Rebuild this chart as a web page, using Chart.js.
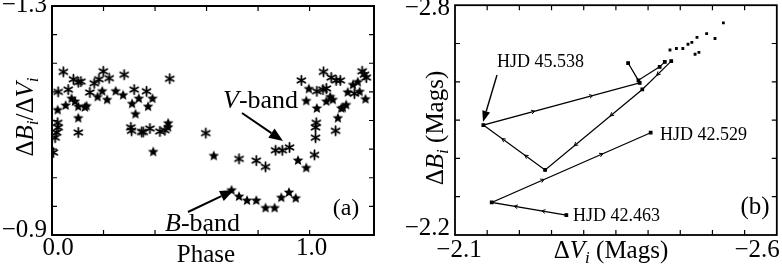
<!DOCTYPE html>
<html>
<head>
<meta charset="utf-8">
<script src="https://cdn.jsdelivr.net/npm/chart.js@4/dist/chart.umd.min.js"></script>
<style>
  body { margin: 0; background: #fff; overflow: hidden; }
  #wrap { position: relative; width: 782px; height: 264px; }
  canvas { position: absolute; top: 0; }
</style>
</head>
<body>
<div id="wrap">
  <canvas id="left" width="380" height="264" style="left:0"></canvas>
  <canvas id="right" width="402" height="264" style="left:380px"></canvas>
</div>
<script>
// --- DATA ---
// panel (a): phase folded colour ratio, V-band (asterisks) and B-band (stars)
const vPhase = [0.044,0.083,0.102,0.112,0.024,0.063,0.022,0.024,0.018,0.012,0.102,0.005,0.147,0.164,0.182,0.199,0.222,0.280,0.319,0.306,0.309,0.348,0.457,0.367,0.354,0.380,0.419,0.438,0.597,0.726,0.793,0.829,0.868,0.894,0.922,1.019,1.023,1.023,1.026,1.101,0.968,1.028,1.052,1.054,1.084,1.103,1.119,1.204,1.220,1.213,1.174,1.065];
const vRatio = [-1.185,-1.172,-1.167,-1.168,-1.150,-1.154,-1.096,-1.088,-1.079,-1.070,-1.079,-1.044,-1.149,-1.165,-1.172,-1.186,-1.174,-1.180,-1.154,-1.088,-1.082,-1.080,-1.173,-1.151,-1.080,-1.086,-1.081,-1.083,-1.078,-1.033,-1.030,-1.019,-1.048,-1.048,-1.053,-1.040,-1.070,-1.088,-1.096,-1.082,-1.170,-1.151,-1.154,-1.185,-1.175,-1.170,-1.170,-1.186,-1.175,-1.180,-1.147,-1.156];
const bPhase = [0.022,0.053,0.076,0.089,0.102,0.128,0.134,0.102,0.177,0.195,0.214,0.247,0.276,0.337,0.311,0.324,0.390,0.373,0.451,0.451,0.393,0.628,0.955,0.987,0.697,0.726,0.757,0.793,0.829,0.864,0.890,0.920,0.946,1.028,1.110,1.129,1.142,0.997,0.987,1.080,1.090,1.148,1.168,1.187,1.194,1.217,1.065,1.123];
const bRatio = [-1.119,-1.127,-1.139,-1.134,-1.125,-1.124,-1.126,-1.105,-1.142,-1.152,-1.137,-1.152,-1.145,-1.139,-1.130,-1.112,-1.139,-1.125,-1.096,-1.089,-1.046,-1.039,-1.031,-1.018,-0.979,-0.968,-0.961,-0.961,-0.948,-0.948,-0.966,-0.975,-0.965,-1.122,-1.105,-1.123,-1.128,-1.156,-1.135,-1.142,-1.137,-1.150,-1.163,-1.168,-1.151,-1.138,-1.134,-1.122];

// panel (b): colour-magnitude track, delta V vs delta B (mags)
const night42DV = [-2.273,-2.157,-2.404];
const night42DB = [-2.252,-2.285,-2.467];
const night45DV = [-2.436,-2.391,-2.240,-2.144,-2.387,-2.369,-2.385,-2.418,-2.426];
const night45DB = [-2.654,-2.580,-2.370,-2.487,-2.597,-2.649,-2.604,-2.639,-2.652];
const otherDV = [-2.434,-2.444,-2.454,-2.462,-2.468,-2.473,-2.479,-2.476,-2.491,-2.504,-2.517];
const otherDB = [-2.683,-2.687,-2.687,-2.698,-2.703,-2.672,-2.677,-2.716,-2.726,-2.713,-2.754];

// tick labels
const phaseTicks = [0.0, 1.0];
const ratioTicks = [-1.3, -0.9];
const dvTicks = [-2.1, -2.6];
const dbTicks = [-2.8, -2.2];

const FONT = '"Liberation Serif", "DejaVu Serif", serif';
const pts = (xs, ys) => xs.map((x, i) => ({ x, y: ys[i] }));
const fmt = v => (v < 0 ? '\u2212' : '') + Math.abs(v).toFixed(1);

// --- MARKERS ---
function makeAsterisk(r, lw) {
    const s = Math.ceil(2 * r + 2 * lw), c = document.createElement('canvas');
    c.width = c.height = s;
    const g = c.getContext('2d');
    g.translate(s / 2, s / 2);
    g.strokeStyle = '#000'; g.lineWidth = lw; g.lineCap = 'round';
    g.beginPath();
    for (let k = 0; k < 3; k++) {
        const a = Math.PI / 2 + k * Math.PI / 3;
        g.moveTo(Math.cos(a) * r, Math.sin(a) * r);
        g.lineTo(-Math.cos(a) * r, -Math.sin(a) * r);
    }
    g.stroke();
    g.beginPath(); g.arc(0, 0, lw * 0.9, 0, Math.PI * 2); g.fillStyle = '#000'; g.fill();
    return c;
}

function makeStar(r) {
    const s = Math.ceil(2 * r + 2), c = document.createElement('canvas');
    c.width = c.height = s;
    const g = c.getContext('2d');
    g.translate(s / 2, s / 2 + 0.5);
    g.fillStyle = '#000';
    g.beginPath();
    for (let k = 0; k < 10; k++) {
        const a = -Math.PI / 2 + k * Math.PI / 5, rr = k % 2 ? r * 0.45 : r;
        g.lineTo(Math.cos(a) * rr, Math.sin(a) * rr);
    }
    g.closePath(); g.fill();
    return c;
}

// --- TEXT HELPERS ---
function drawRich(ctx, parts, x, y, size, align) {
    const fonts = {
        r: `${size}px ${FONT}`,
        i: `italic ${size}px ${FONT}`,
        s: `italic ${Math.round(size * 0.68)}px ${FONT}`
    };
    let w = 0;
    parts.forEach(([t, s]) => { ctx.font = fonts[s]; w += ctx.measureText(t).width; });
    let cx = align === 'center' ? x - w / 2 : align === 'right' ? x - w : x;
    ctx.textAlign = 'left';
    ctx.textBaseline = 'alphabetic';
    parts.forEach(([t, s]) => {
        ctx.font = fonts[s];
        ctx.fillText(t, cx, s === 's' ? y + size * 0.2 : y);
        cx += ctx.measureText(t).width;
    });
}

function arrow(ctx, x1, y1, x2, y2, len, half, lw) {
    const a = Math.atan2(y2 - y1, x2 - x1);
    const bx = x2 - Math.cos(a) * len, by = y2 - Math.sin(a) * len;
    ctx.lineWidth = lw;
    ctx.beginPath(); ctx.moveTo(x1, y1); ctx.lineTo(bx, by); ctx.stroke();
    ctx.beginPath();
    ctx.moveTo(x2, y2);
    ctx.lineTo(bx + Math.sin(a) * half, by - Math.cos(a) * half);
    ctx.lineTo(bx - Math.sin(a) * half, by + Math.cos(a) * half);
    ctx.closePath(); ctx.fill();
}

// frame, inward ticks, tick labels, titles and notes
const decor = {
    id: 'decor',
    afterDraw(chart, args, o) {
        const { ctx, chartArea: a, scales: { x, y } } = chart;
        ctx.save();
        ctx.strokeStyle = '#000'; ctx.fillStyle = '#000';

        ctx.lineWidth = o.frameWidth;
        ctx.strokeRect(a.left, a.top, a.right - a.left, a.bottom - a.top);

        ctx.lineWidth = 1.2;
        ctx.beginPath();
        x.ticks.forEach(t => {
            const px = x.getPixelForValue(t.value);
            if (px < a.left + 3 || px > a.right - 3) return;
            ctx.moveTo(px, a.bottom); ctx.lineTo(px, a.bottom - o.tick);
            ctx.moveTo(px, a.top); ctx.lineTo(px, a.top + o.tick);
        });
        y.ticks.forEach(t => {
            const py = y.getPixelForValue(t.value);
            if (py < a.top + 3 || py > a.bottom - 3) return;
            ctx.moveTo(a.left, py); ctx.lineTo(a.left + o.tick, py);
            ctx.moveTo(a.right, py); ctx.lineTo(a.right - o.tick, py);
        });
        ctx.stroke();

        // tick labels: value sits on the scale, small nudges keep them inside the picture
        o.xLabels.forEach(([v, dx, align]) => {
            drawRich(ctx, [[fmt(v), 'r']], x.getPixelForValue(v) + dx, a.bottom + o.xLabelDrop, o.size, align);
        });
        o.yLabels.forEach(([v, dy]) => {
            drawRich(ctx, [[fmt(v), 'r']], a.left - 5, y.getPixelForValue(v) + dy, o.size, 'right');
        });

        // axis titles
        drawRich(ctx, o.xTitle, o.xTitlePos[0], o.xTitlePos[1], o.size, 'center');
        ctx.save();
        ctx.translate(o.yTitlePos[0], o.yTitlePos[1]);
        ctx.rotate(-Math.PI / 2);
        drawRich(ctx, o.yTitle, 0, 0, o.size, 'center');
        ctx.restore();

        // notes and arrows
        o.notes.forEach(n => drawRich(ctx, n.parts, n.x, n.y, n.size, n.align));
        o.arrows.forEach(r => arrow(ctx, ...r));

        // direction marks along the track
        if (o.trackMarks) {
            ctx.lineWidth = 1;
            chart.data.datasets.forEach((ds, di) => {
                if (!ds.showLine) return;
                const el = chart.getDatasetMeta(di).data;
                for (let i = 1; i < el.length; i++) {
                    const p0 = el[i - 1], p1 = el[i];
                    const L = Math.hypot(p1.x - p0.x, p1.y - p0.y);
                    const fr = L > 70 ? [0.33, 0.7] : L > 30 ? [0.5] : [];
                    const ang = Math.atan2(p1.y - p0.y, p1.x - p0.x);
                    fr.forEach(f => {
                        const cx = p0.x + (p1.x - p0.x) * f, cy = p0.y + (p1.y - p0.y) * f;
                        ctx.beginPath();
                        ctx.moveTo(cx - Math.cos(ang - 0.5) * 4, cy - Math.sin(ang - 0.5) * 4);
                        ctx.lineTo(cx, cy);
                        ctx.lineTo(cx - Math.cos(ang + 0.5) * 4, cy - Math.sin(ang + 0.5) * 4);
                        ctx.stroke();
                    });
                }
            });
        }
        ctx.restore();
    }
};

const fitW = w => s => { s.width = w; };
const fitH = h => s => { s.height = h; };
const hiddenAxis = { ticks: { display: false }, grid: { display: false }, border: { display: false } };

// --- PANEL (a) ---
new Chart(document.getElementById('left'), {
    type: 'scatter',
    data: {
        datasets: [
            { label: 'V-band', data: pts(vPhase, vRatio), pointStyle: makeAsterisk(4.6, 1.8), pointRadius: 5 },
            { label: 'B-band', data: pts(bPhase, bRatio), pointStyle: makeStar(5.6), pointRadius: 5 }
        ]
    },
    options: {
        responsive: false, animation: false,
        layout: { padding: { top: 4, right: 5, left: 0, bottom: 0 } },
        plugins: {
            legend: { display: false }, tooltip: { enabled: false },
            decor: {
                frameWidth: 2, tick: 5, size: 25,
                xLabels: [[phaseTicks[0], 6, 'center'], [phaseTicks[1], 2, 'center']],
                xLabelDrop: 20,
                yLabels: [[ratioTicks[0], 6], [ratioTicks[1], 2]],
                xTitle: [['Phase', 'r']], xTitlePos: [206, 262],
                yTitle: [['\u0394', 'r'], ['B', 'i'], ['i', 's'], ['/\u0394', 'r'], ['V', 'i'], ['i', 's']],
                yTitlePos: [33, 117],
                notes: [
                    { parts: [['V', 'i'], ['-band', 'r']], x: 223, y: 108, size: 26, align: 'left' },
                    { parts: [['B', 'i'], ['-band', 'r']], x: 165, y: 231, size: 26, align: 'left' },
                    { parts: [['(a)', 'r']], x: 346, y: 215, size: 24, align: 'center' }
                ],
                arrows: [[242, 113, 283, 141, 14, 5.5, 2], [188, 212, 234, 190, 14, 5.5, 2]]
            }
        },
        scales: {
            x: { ...hiddenAxis, type: 'linear', min: 0, max: 1.25, ticks: { display: false, stepSize: 0.2 }, afterFit: fitH(29) },
            y: { ...hiddenAxis, type: 'linear', reverse: true, min: -1.3, max: -0.9, ticks: { display: false, stepSize: 0.05 }, afterFit: fitW(52) }
        }
    },
    plugins: [decor]
});

// --- PANEL (b) ---
const trackStyle = { showLine: true, borderColor: '#000', borderWidth: 1.2, pointStyle: 'rect', pointRadius: 1.8, backgroundColor: '#000' };
new Chart(document.getElementById('right'), {
    type: 'scatter',
    data: {
        datasets: [
            { label: 'HJD 42', data: pts(night42DV, night42DB), ...trackStyle },
            { label: 'HJD 45', data: pts(night45DV, night45DB), ...trackStyle },
            { label: 'other', data: pts(otherDV, otherDB), showLine: false, pointStyle: 'rect', pointRadius: 2, backgroundColor: '#000', borderColor: '#000', borderWidth: 0 }
        ]
    },
    options: {
        responsive: false, animation: false,
        layout: { padding: { top: 5, right: 5, left: 0, bottom: 0 } },
        plugins: {
            legend: { display: false }, tooltip: { enabled: false },
            decor: {
                frameWidth: 1.8, tick: 5, size: 25, trackMarks: true,
                xLabels: [[dvTicks[0], 4, 'center'], [dvTicks[1], 3, 'right']],
                xLabelDrop: 22,
                yLabels: [[dbTicks[0], 10], [dbTicks[1], 0]],
                xTitle: [['\u0394', 'r'], ['V', 'i'], ['i', 's'], [' (Mags)', 'r']], xTitlePos: [231, 258],
                yTitle: [['\u0394', 'r'], ['B', 'i'], ['i', 's'], [' (Mags)', 'r']],
                yTitlePos: [63, 128],
                notes: [
                    { parts: [['HJD 45.538', 'r']], x: 117, y: 67, size: 18, align: 'left' },
                    { parts: [['HJD 42.529', 'r']], x: 280, y: 140, size: 18, align: 'left' },
                    { parts: [['HJD 42.463', 'r']], x: 193, y: 221, size: 18, align: 'left' },
                    { parts: [['(b)', 'r']], x: 375, y: 214, size: 25, align: 'center' }
                ],
                arrows: [[117, 75, 103, 122, 11, 4, 1.4]]
            }
        },
        scales: {
            x: { ...hiddenAxis, type: 'linear', reverse: true, min: -2.6, max: -2.1, ticks: { display: false, stepSize: 0.05 }, afterFit: fitH(29) },
            y: { ...hiddenAxis, type: 'linear', reverse: true, min: -2.8, max: -2.2, ticks: { display: false, stepSize: 0.1 }, afterFit: fitW(75) }
        }
    },
    plugins: [decor]
});
</script>
</body>
</html>
